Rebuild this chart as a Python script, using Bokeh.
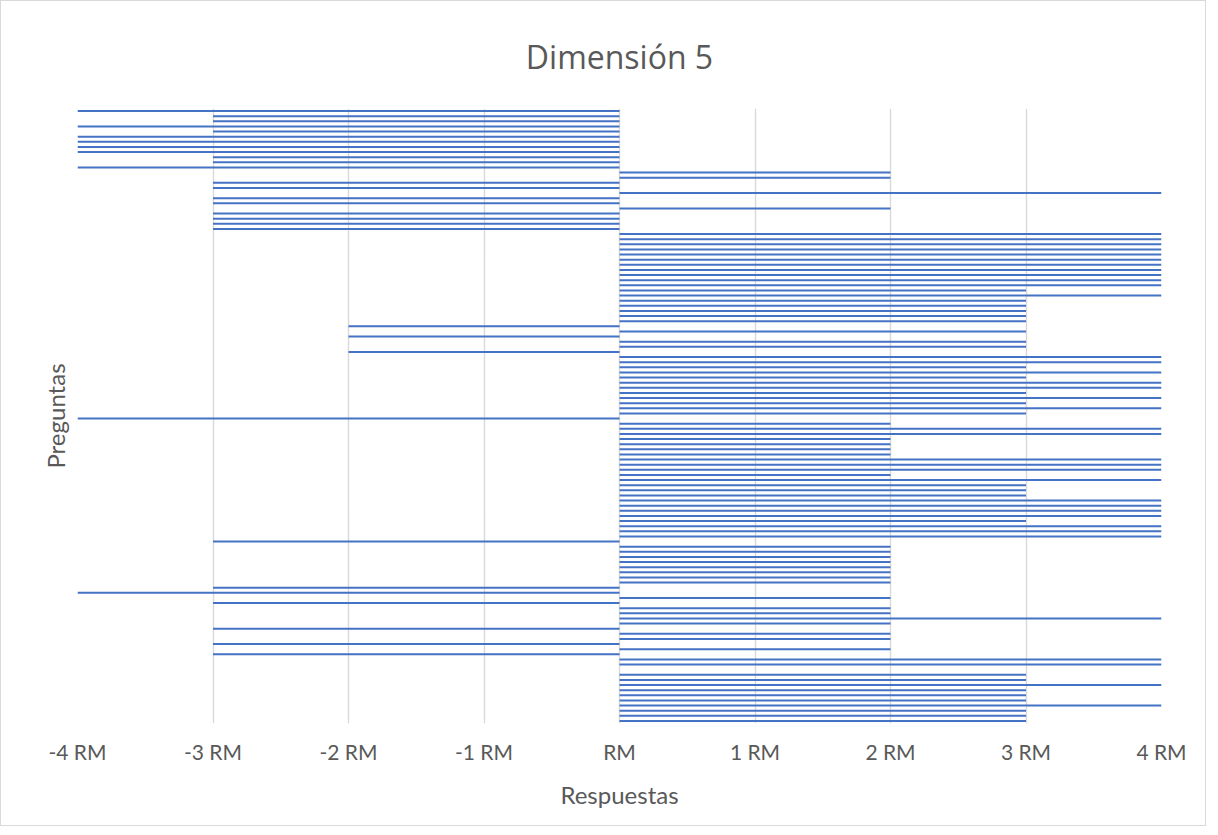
from bokeh.plotting import figure
from bokeh.models import Range1d, FixedTicker, ColumnDataSource
from bokeh.embed import file_html
from bokeh.resources import INLINE

# Values per question, listed top to bottom as drawn
values = [-4, -3, -3, -4, -3, -4, -4, -4, -4, -3,
          -3, -4, 2, 2, -3, -3, 4, -3, -3, 2,
          -3, -3, -3, -3, 4, 4, 4, 4, 4, 4,
          4, 4, 4, 4, 4, 3, 4, 3, 3, 3,
          3, 3, -2, 3, -2, 3, 3, -2, 4, 4,
          3, 4, 3, 4, 4, 3, 4, 3, 4, 3,
          -4, 2, 4, 4, 2, 2, 2, 2, 4, 4,
          4, 2, 4, 3, 3, 3, 4, 4, 4, 4,
          3, 4, 4, 4, -3, 2, 2, 2, 2, 2,
          2, 2, 2, -3, -4, 2, -3, 2, 2, 4,
          2, -3, 2, 2, -3, 2, -3, 4, 4, 0,
          3, 3, 4, 3, 3, 3, 4, 3, 3, 3]
tick_values = [-4, -3, -2, -1, 0, 1, 2, 3, 4]
tick_labels = ["-4 RM", "-3 RM", "-2 RM", "-1 RM", "RM", "1 RM", "2 RM", "3 RM", "4 RM"]
title_text = "Dimensión 5"
x_title = "Respuestas"
y_title = "Preguntas"

n = len(values)
pos = [n - 1 - i for i in range(n)]
src = ColumnDataSource(dict(y=pos, v=values))

FONT = "Lato"
GREY = "#595959"

p = figure(width=1206, height=826, output_backend="svg", toolbar_location=None,
           x_range=Range1d(-4, 4), y_range=Range1d(-0.5, n - 0.5),
           min_border_left=76, min_border_right=46, min_border_top=107, min_border_bottom=104)
p.styles = {"border": "1px solid #d9d9d9"}
p.outline_line_color = None
p.background_fill_color = "white"
p.border_fill_color = "white"

p.hbar(y="y", left=0, right="v", height=0.4, source=src,
       fill_color="#4472C4", line_color=None)

p.title.text = title_text
p.title.align = "center"
p.title.text_font = "Open Sans"
p.title.text_font_style = "normal"
p.title.text_font_size = "32px"
p.title.text_color = GREY
p.title.standoff = 62

xa = p.xaxis[0]
xa.ticker = FixedTicker(ticks=tick_values)
xa.major_label_overrides = {v: l for v, l in zip(tick_values, tick_labels)}
xa.axis_line_color = None
xa.major_tick_line_color = None
xa.minor_tick_line_color = None
xa.major_label_text_font = FONT
xa.major_label_text_font_size = "21px"
xa.major_label_text_color = GREY
xa.major_label_standoff = 9
xa.axis_label = x_title
xa.axis_label_text_font = FONT
xa.axis_label_text_font_size = "24px"
xa.axis_label_text_font_style = "normal"
xa.axis_label_text_color = GREY
xa.axis_label_standoff = 13

ya = p.yaxis[0]
ya.ticker = FixedTicker(ticks=[])
ya.axis_line_color = None
ya.major_tick_line_color = None
ya.minor_tick_line_color = None
ya.major_label_text_font_size = "0px"
ya.axis_label = y_title
ya.axis_label_text_font = FONT
ya.axis_label_text_font_size = "24px"
ya.axis_label_text_font_style = "normal"
ya.axis_label_text_color = GREY
ya.axis_label_standoff = 8

p.xgrid.grid_line_color = "#D9D9D9"
p.xgrid.grid_line_width = 1.4
p.ygrid.grid_line_color = None

open("out.html", "w").write(file_html(p, INLINE))
